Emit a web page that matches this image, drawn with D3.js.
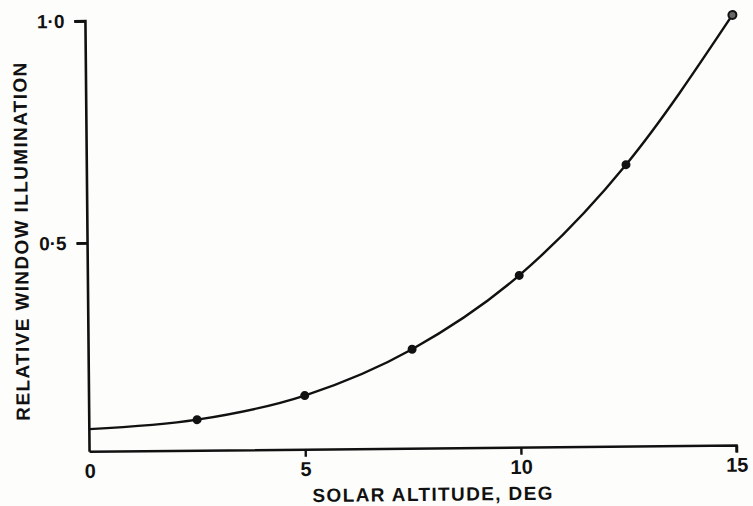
<!DOCTYPE html>
<html>
<head>
<meta charset="utf-8">
<script src="https://cdn.jsdelivr.net/npm/d3@7"></script>
<style>
  html, body { margin: 0; padding: 0; background: #fdfdfb; }
  svg { display: block; font-family: 'Liberation Sans', Arial, sans-serif; }
</style>
</head>
<body>
<div id="chart"></div>
<script>
// values
const altitudes = [0, 2.5, 5, 7.5, 10, 12.5, 15];
const illumination = [0.081, 0.10, 0.152, 0.254, 0.418, 0.665, 1.0];
const xTicks = [0, 5, 10, 15];
const yTicks = [0.5, 1.0];
const yTickLabels = ['0\u00b75', '1\u00b70'];
const xTitle = 'SOLAR ALTITUDE, DEG';
const yTitle = 'RELATIVE WINDOW ILLUMINATION';

const width = 753, height = 506;
const axisBase = 0.03; // x axis sits a little above zero on the original

const svg = d3.select('#chart')
  .append('svg')
  .attr('width', width)
  .attr('height', height);

// the scan is slightly skewed, so the whole drawing is turned a touch
const g = svg.append('g')
  .attr('transform', 'rotate(-0.55, 412, 235)');

const x = d3.scaleLinear()
  .domain([0, 15])
  .range([87.5, 734.5]);

const y = d3.scaleLinear()
  .domain([0, 1])
  .range([462, 18]);

const ink = '#111';

// x axis
const xAxis = g.append('g')
  .attr('transform', `translate(0, ${y(axisBase)})`)
  .call(d3.axisBottom(x).tickValues(xTicks).tickSize(7).tickPadding(5).tickFormat(d3.format('d')));
xAxis.select('.domain').attr('d', `M${x(0)},0H${x(15)}V7`).attr('stroke', ink).attr('stroke-width', 2.6).attr('fill', 'none');
xAxis.selectAll('.tick line').attr('stroke', ink).attr('stroke-width', 2.4);
xAxis.selectAll('.tick').filter(d => d === 0).select('line').remove();
xAxis.selectAll('.tick text')
  .attr('fill', ink)
  .attr('font-size', 20)
  .attr('font-weight', 'bold')
  .attr('font-family', "'Liberation Sans', Arial, sans-serif");

// y axis
const yAxis = g.append('g')
  .attr('transform', `translate(${x(0)}, 0)`)
  .call(d3.axisLeft(y).tickValues(yTicks).tickSize(11).tickPadding(10).tickFormat((d, i) => yTickLabels[i]));
yAxis.select('.domain').attr('d', `M-11,${y(1)}H0V${y(axisBase)}`).attr('stroke', ink).attr('stroke-width', 2.6).attr('fill', 'none');
yAxis.selectAll('.tick line').attr('stroke', ink).attr('stroke-width', 2.4);
yAxis.selectAll('.tick text')
  .attr('fill', ink)
  .attr('font-size', 19)
  .attr('font-weight', 'bold')
  .attr('font-family', "'Liberation Sans', Arial, sans-serif");

// make sure the left ticks show up as solid strokes
yAxis.selectAll('line.ytick')
  .data(yTicks)
  .join('line')
  .attr('class', 'ytick')
  .attr('x1', -11)
  .attr('x2', 0)
  .attr('y1', d => y(d))
  .attr('y2', d => y(d))
  .attr('stroke', ink)
  .attr('stroke-width', 2.4);

// axis titles
g.append('text')
  .attr('x', 310)
  .attr('y', 501)
  .attr('textLength', 240)
  .attr('lengthAdjust', 'spacing')
  .attr('fill', ink)
  .style('font-size', '19px')
  .style('font-weight', 'bold')
  .text(xTitle);

g.append('text')
  .attr('transform', 'translate(28, 238) rotate(-90)')
  .attr('x', -179)
  .attr('textLength', 358)
  .attr('lengthAdjust', 'spacing')
  .attr('fill', ink)
  .style('font-size', '19px')
  .style('font-weight', 'bold')
  .text(yTitle);

// curve through the measured points
const data = altitudes.map((a, i) => ({ a, v: illumination[i] }));

g.append('path')
  .datum(data)
  .attr('fill', 'none')
  .attr('stroke', ink)
  .attr('stroke-width', 2.4)
  .attr('d', d3.line()
    .x(d => x(d.a))
    .y(d => y(d.v))
    .curve(d3.curveMonotoneX));

// markers (none at the start of the curve, ring at the end)
const last = data.length - 2;
g.selectAll('circle')
  .data(data.slice(1))
  .join('circle')
  .attr('cx', d => x(d.a))
  .attr('cy', d => y(d.v))
  .attr('r', (d, i) => i === last ? 4 : 4.5)
  .attr('fill', (d, i) => i === last ? '#666' : ink)
  .attr('stroke', ink)
  .attr('stroke-width', (d, i) => i === last ? 2 : 0);
</script>
</body>
</html>
